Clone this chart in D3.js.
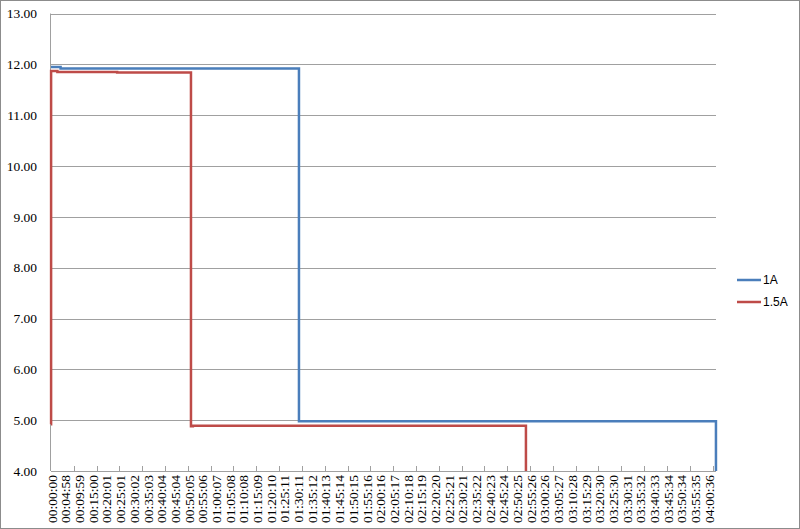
<!DOCTYPE html>
<html>
<head>
<meta charset="utf-8">
<script src="https://cdn.jsdelivr.net/npm/d3@7"></script>
<style>
	body { margin: 0; background: #fff; }
	svg { display: block; }
</style>
</head>
<body>
<svg id="chart" width="800" height="529"></svg>
<script>
'use strict';

// category labels on the x axis (one every 300 samples)
const timeLabels = [
	'00:00:00','00:04:58','00:09:59','00:15:00','00:20:01','00:25:01','00:30:02','00:35:03',
	'00:40:04','00:45:04','00:50:05','00:55:06','01:00:07','01:05:08','01:10:08','01:15:09',
	'01:20:10','01:25:11','01:30:11','01:35:12','01:40:13','01:45:14','01:50:15','01:55:16',
	'02:00:16','02:05:17','02:10:18','02:15:19','02:20:20','02:25:21','02:30:21','02:35:22',
	'02:40:23','02:45:24','02:50:25','02:55:26','03:00:26','03:05:27','03:10:28','03:15:29',
	'03:20:30','03:25:30','03:30:31','03:35:32','03:40:33','03:45:34','03:50:34','03:55:35',
	'04:00:36'
];
const labelStep = 300;
const tickStep = 500;
const sampleCount = 14576;

const yTicks = [4, 5, 6, 7, 8, 9, 10, 11, 12, 13];

// step series: [sample index, voltage] where the value changes
const series1A = [
	[0, 11.95], [210, 11.92], [5435, 4.98], [14575, 4.00]
];
const series15A = [
	[0, 4.92], [2, 11.87], [140, 11.85], [1450, 11.84], [3068, 4.88],
	[3110, 4.89], [10410, 4.00]
];

const seriesNames = ['1A', '1.5A'];
const seriesColors = ['#4a7ebb', '#be4b48'];

/** layout */
const svg = d3.select('#chart');
const plot = { left: 51, right: 716, top: 13.5, bottom: 471 };

const x = d3.scaleLinear()
	.domain([0, sampleCount])
	.range([plot.left, plot.right]);
const y = d3.scaleLinear()
	.domain([4, 13])
	.range([plot.bottom, plot.top]);

// outer border of the chart
svg.append('rect')
	.attr('x', 0.5).attr('y', 0.5)
	.attr('width', 799).attr('height', 528)
	.attr('fill', '#fff')
	.attr('stroke', '#8c8c8c');

// horizontal gridlines
svg.append('g')
	.selectAll('line')
	.data(yTicks)
	.join('line')
		.attr('x1', plot.left)
		.attr('x2', plot.right)
		.attr('y1', d => Math.round(y(d)) + 0.5)
		.attr('y2', d => Math.round(y(d)) + 0.5)
		.attr('stroke', '#a0a0a0');

// y axis line
svg.append('line')
	.attr('x1', plot.left - 0.5).attr('x2', plot.left - 0.5)
	.attr('y1', y(13)).attr('y2', y(4))
	.attr('stroke', '#a0a0a0');

// y axis labels
svg.append('g')
	.selectAll('text')
	.data(yTicks)
	.join('text')
		.attr('x', 37)
		.attr('y', d => y(d))
		.attr('dy', '0.35em')
		.attr('text-anchor', 'end')
		.attr('font-family', 'Liberation Serif, serif')
		.attr('font-size', 13.5)
		.attr('fill', '#000')
		.text(d => d.toFixed(2));

// x axis tick marks (pointing up into the plot)
svg.append('g')
	.selectAll('line')
	.data(d3.range(tickStep, sampleCount, tickStep))
	.join('line')
		.attr('x1', d => Math.round(x(d)) + 0.5)
		.attr('x2', d => Math.round(x(d)) + 0.5)
		.attr('y1', plot.bottom - 5)
		.attr('y2', plot.bottom)
		.attr('stroke', '#a0a0a0');

// x axis labels, rotated
svg.append('g')
	.selectAll('text')
	.data(timeLabels)
	.join('text')
		.attr('transform', (d, i) => `translate(${x(i * labelStep) + 1},475) rotate(-90)`)
		.attr('dy', '0.35em')
		.attr('text-anchor', 'end')
		.attr('font-family', 'Liberation Serif, serif')
		.attr('font-size', 13.5)
		.attr('fill', '#000')
		.text(d => d);

// the two series, drawn as steps
const line = d3.line()
	.x(d => x(d[0]))
	.y(d => y(d[1]))
	.curve(d3.curveStepAfter);

[series1A, series15A].forEach((s, i) => {
	svg.append('path')
		.datum(s)
		.attr('d', line)
		.attr('fill', 'none')
		.attr('stroke', seriesColors[i])
		.attr('stroke-width', 2.5);
});

// legend
const legend = svg.append('g')
	.selectAll('g')
	.data(seriesNames)
	.join('g')
		.attr('transform', (d, i) => `translate(737,${280 + i * 22})`);

legend.append('line')
	.attr('x1', 0).attr('x2', 24)
	.attr('stroke', (d, i) => seriesColors[i])
	.attr('stroke-width', 2.5);

legend.append('text')
	.attr('x', 26)
	.attr('dy', '0.35em')
	.attr('font-family', 'Liberation Sans, sans-serif')
	.attr('font-size', 12)
	.attr('fill', '#000')
	.text(d => d);
</script>
</body>
</html>
